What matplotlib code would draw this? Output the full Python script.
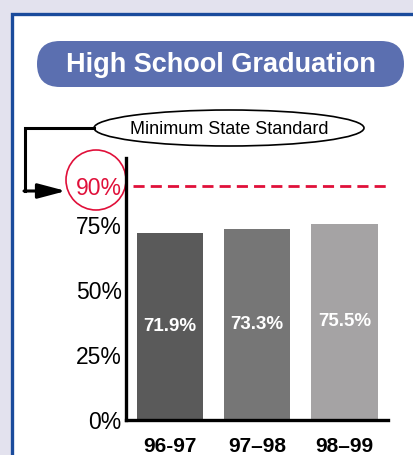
import matplotlib
matplotlib.use("Agg")
import matplotlib.pyplot as plt
from matplotlib.patches import FancyBboxPatch, Ellipse, Circle, Rectangle

plt.rcParams['font.family'] = ['Liberation Sans', 'DejaVu Sans']

# data
years = ['96-97', '97\u201398', '98\u201399']
rates = [71.9, 73.3, 75.5]
bar_colors = ['#5a5a5a', '#767676', '#a5a3a4']
standard = 90
yticks = [0, 25, 50, 75, 90]
title = 'High School Graduation'
note = 'Minimum State Standard'

W, H = 414, 455
fig = plt.figure(figsize=(W / 100, H / 100), dpi=100)
fig.patch.set_facecolor('#e3e2ee')

# decoration layer in pixel coords
bg = fig.add_axes([0, 0, 1, 1])
bg.set_xlim(0, W)
bg.set_ylim(H, 0)
bg.axis('off')
bg.set_zorder(-1)

bg.add_patch(Rectangle((12, 14), 420, 460, facecolor='white',
                       edgecolor='#1a4b9c', lw=2.4))
bg.add_patch(FancyBboxPatch((37, 41), 367, 46,
                            boxstyle='round,pad=0,rounding_size=23',
                            facecolor='#5b6fb0', edgecolor='none'))
bg.text(221, 65, title, color='white', fontsize=19.5, fontweight='bold',
        ha='center', va='center')

bg.add_patch(Ellipse((229, 128), 270, 36, facecolor='white',
                     edgecolor='black', lw=1.2))
bg.text(229, 130, note, fontsize=13, ha='center', va='center')

# connector to the 90% label
bg.plot([94, 25, 25], [128, 128, 191], color='black', lw=2.2,
        solid_joinstyle='miter')
bg.annotate('', xy=(66, 191), xytext=(24, 191),
            arrowprops=dict(arrowstyle='-|>,head_length=1.7,head_width=0.45',
                            color='black', lw=2.2, shrinkA=0, shrinkB=0,
                            mutation_scale=10))
bg.add_patch(Circle((96, 180), 30, facecolor='none', edgecolor='#e0103a',
                    lw=1.2))

# main chart
ax = fig.add_axes([126 / W, 1 - 420 / H, 262 / W, 262 / H])
ax.patch.set_alpha(0)
x = range(len(years))
ax.bar(x, rates, width=0.76, color=bar_colors)
for i, v in enumerate(rates):
    ax.text(i, v / 2, f'{v}%', color='white', fontsize=13.5,
            fontweight='bold', ha='center', va='center')

ax.axhline(standard, xmin=0.027, xmax=0.996, color='#e0103a', lw=2,
           dashes=(4, 2.2))

ax.set_xlim(-0.506, 2.5)
ax.set_ylim(0, 100.8)
ax.set_yticks(yticks)
ax.set_yticklabels([f'{t}%' for t in yticks], fontsize=16.5)
ax.get_yticklabels()[-1].set_color('#e0103a')
ax.set_xticks(list(x))
ax.set_xticklabels(years, fontsize=15, fontweight='bold')
ax.tick_params(axis='y', length=0, pad=3)
ax.tick_params(axis='x', length=0, pad=12)
for s in ['top', 'right']:
    ax.spines[s].set_visible(False)
for s in ['left', 'bottom']:
    ax.spines[s].set_linewidth(2.4)

fig.savefig('out.png', dpi=100, facecolor=fig.get_facecolor())
